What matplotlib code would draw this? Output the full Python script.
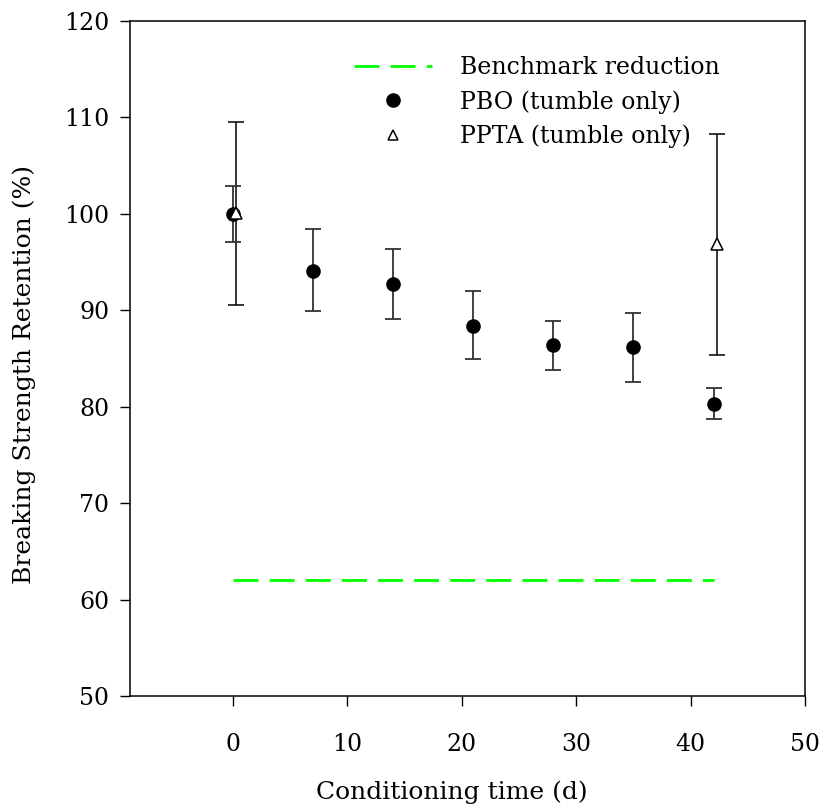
import matplotlib.pyplot as plt
from matplotlib.lines import Line2D

plt.rcParams['font.family'] = ['DejaVu Serif']

# data
days = [0, 7, 14, 21, 28, 35, 42]
pbo = [100.0, 94.1, 92.7, 88.4, 86.4, 86.2, 80.3]
pbo_lo = [97.1, 89.9, 89.1, 84.9, 83.8, 82.6, 78.7]
pbo_hi = [102.9, 98.4, 96.4, 92.0, 88.9, 89.7, 81.9]

ppta_days = [0.3, 42.3]
ppta = [100.1, 96.9]
ppta_lo = [90.5, 85.4]
ppta_hi = [109.5, 108.3]

bench_x = [0, 42]
bench_y = [62, 62]

pbo_err = [[v - lo for v, lo in zip(pbo, pbo_lo)], [hi - v for v, hi in zip(pbo, pbo_hi)]]
ppta_err = [[v - lo for v, lo in zip(ppta, ppta_lo)], [hi - v for v, hi in zip(ppta, ppta_hi)]]

fig = plt.figure(figsize=(8.25, 8.09), dpi=100)
ax = fig.add_axes([0.1576, 0.1397, 0.8182, 0.8343])

ax.plot(bench_x, bench_y, color="#00ff00", lw=2, dashes=(9, 4))
ax.errorbar(ppta_days, ppta, yerr=ppta_err, fmt="none", ecolor="black", elinewidth=1.1,
            capsize=6, capthick=1.1)
ax.errorbar(days, pbo, yerr=pbo_err, fmt="none", ecolor="#333333", elinewidth=1.3,
            capsize=6, capthick=1.3)
ax.plot(days, pbo, "o", color="black", ms=9.5, ls="none")
ax.plot(ppta_days, ppta, "^", mfc="white", mec="black", mew=1.1, ms=9, ls="none")

ax.set_xlim(-9, 50)
ax.set_ylim(50, 120)
ax.set_xticks([0, 10, 20, 30, 40, 50])
ax.set_yticks([50, 60, 70, 80, 90, 100, 110, 120])
ax.tick_params(direction="out", length=7, width=1, labelsize=17)
ax.tick_params(axis="x", pad=20)
ax.tick_params(axis="y", pad=8)
for s in ax.spines.values():
    s.set_linewidth(1.1)

ax.set_xlabel("Conditioning time (d)", fontsize=18)
ax.set_ylabel("Breaking Strength Retention (%)", fontsize=18)
ax.xaxis.set_label_coords(0.477, -0.125)
ax.yaxis.set_label_coords(-0.14, 0.477)

# legend proxies (legend triangle is drawn smaller than in the plot)
handles = [
    Line2D([], [], color="#00ff00", lw=2, dashes=(9, 4)),
    Line2D([], [], marker="o", color="black", ms=9.5, ls="none"),
    Line2D([], [], marker="^", mfc="white", mec="black", mew=1.1, ms=6.5, ls="none"),
]
labels = ["Benchmark reduction", "PBO (tumble only)", "PPTA (tumble only)"]
ax.legend(handles, labels, loc="upper left", bbox_to_anchor=(0.3, 0.979),
          frameon=False, fontsize=17, handlelength=3.3, handletextpad=1.2,
          labelspacing=0.45)

fig.savefig("out.png", dpi=100)
